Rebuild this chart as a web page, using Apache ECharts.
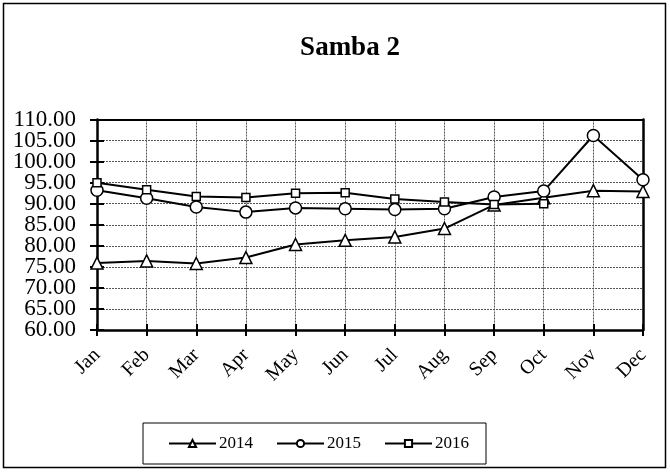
<!DOCTYPE html>
<html><head><meta charset="utf-8">
<script src="https://cdn.jsdelivr.net/npm/echarts@6/dist/echarts.min.js"></script>
<style>html,body{margin:0;padding:0;background:#fff}#c{width:670px;height:472px}</style>
</head><body><div id="c"></div>
<script>
var categories = ['Jan','Feb','Mar','Apr','May','Jun','Jul','Aug','Sep','Oct','Nov','Dec'];
var s2014 = [75.9, 76.4, 75.8, 77.2, 80.3, 81.3, 82.1, 84.1, 89.7, 91.4, 93.1, 92.9];
var s2015 = [93.2, 91.3, 89.2, 88.0, 89.0, 88.8, 88.6, 88.8, 91.6, 93.0, 106.2, 95.7];
var s2016 = [95.0, 93.3, 91.7, 91.5, 92.5, 92.6, 91.1, 90.4, 89.8, 90.0, null, null];
var yTicks = {min: 60, max: 110, step: 5};

var font = '"Liberation Serif", "Times New Roman", serif';
var chart = echarts.init(document.getElementById('c'), null, {renderer: 'canvas'});
function mk(name, data, symbol, size) {
  return {
    name: name, type: 'line', data: data, symbol: symbol, symbolSize: size,
    showAllSymbol: true, connectNulls: false, xAxisIndex: 0, yAxisIndex: 0,
    lineStyle: {color: '#000', width: 2},
    itemStyle: {color: '#fff', borderColor: '#000', borderWidth: 1.5},
    emphasis: {disabled: true}, z: 5
  };
}
var gridLine = {show: true, lineStyle: {color: '#555', type: [2, 1], width: 1}};
function yLab(even) {
  return {fontFamily: font, fontSize: 23, color: '#000', margin: 21,
    showMinLabel: true, showMaxLabel: true,
    formatter: function (v) {
      var isEven = Math.round(v) % 10 === 0;
      return isEven === even ? v.toFixed(2) : '';
    }};
}
chart.setOption({
  animation: false,
  backgroundColor: '#fff',
  graphic: [{type: 'rect', shape: {x: 3.5, y: 3.5, width: 662, height: 464},
    style: {fill: 'none', stroke: '#000', lineWidth: 1.5}, silent: true}],
  title: {text: 'Samba 2', left: 345, textAlign: 'center', top: 30,
    textStyle: {fontFamily: font, fontSize: 27, fontWeight: 'bold', color: '#000'}},
  legend: {
    bottom: 8, left: 143,
    itemWidth: 47, itemHeight: 9, itemGap: 23,
    padding: [12, 17, 12, 25],
    borderColor: '#000', borderWidth: 1, borderRadius: 0,
    textStyle: {fontFamily: font, fontSize: 17, color: '#000', padding: [0, 0, 0, -2]},
    data: ['2014', '2015', '2016']
  },
  grid: {left: 97, right: 27, top: 119.5, bottom: 142, containLabel: false},
  xAxis: [{
    type: 'category', data: categories, boundaryGap: false,
    axisLine: {lineStyle: {color: '#000', width: 2.5}},
    axisTick: {show: true, length: 6, lineStyle: {color: '#000', width: 2}},
    axisLabel: {rotate: 45, fontFamily: font, fontSize: 20, color: '#000', margin: 22},
    splitLine: gridLine
  }, {
    type: 'category', data: categories, boundaryGap: false, position: 'bottom',
    axisLine: {show: false},
    axisTick: {show: true, inside: true, length: 6, lineStyle: {color: '#000', width: 2}},
    axisLabel: {show: false}, splitLine: {show: false}
  }, {
    type: 'category', data: categories, boundaryGap: false, position: 'top',
    axisLine: {show: true, lineStyle: {color: '#000', width: 2}},
    axisTick: {show: false}, axisLabel: {show: false}, splitLine: {show: false}
  }],
  yAxis: [{
    type: 'value', min: yTicks.min, max: yTicks.max, interval: yTicks.step,
    axisLine: {show: true, lineStyle: {color: '#000', width: 2.5}},
    axisTick: {show: true, length: 7, lineStyle: {color: '#000', width: 2}},
    axisLabel: yLab(true),
    splitLine: gridLine
  }, {
    type: 'value', min: yTicks.min, max: yTicks.max, interval: yTicks.step, position: 'left',
    axisLine: {show: false},
    axisTick: {show: true, inside: true, length: 7, lineStyle: {color: '#000', width: 2}},
    axisLabel: yLab(false), splitLine: {show: false}
  }, {
    type: 'value', min: yTicks.min, max: yTicks.max, interval: yTicks.step, position: 'right',
    axisLine: {show: true, lineStyle: {color: '#000', width: 2.5}},
    axisTick: {show: false}, axisLabel: {show: false}, splitLine: {show: false}
  }],
  series: [
    mk('2014', s2014, 'triangle', 12),
    mk('2015', s2015, 'circle', 12),
    mk('2016', s2016, 'rect', 8)
  ]
});
</script></body></html>
